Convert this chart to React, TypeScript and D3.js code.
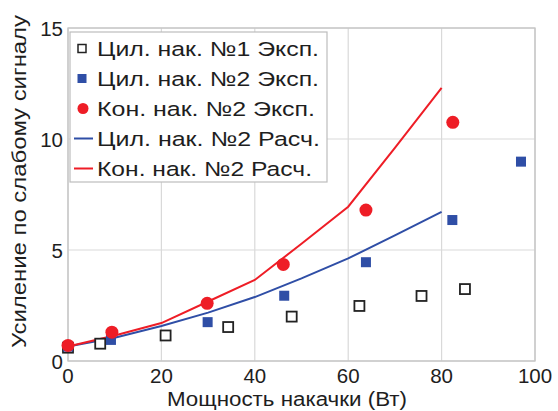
import React from "react";
import * as d3 from "d3";

const xTicks = [0, 20, 40, 60, 80, 100];
const yTicks = [0, 5, 10, 15];

// Цил. нак. №1 Эксп. (open squares)
const cyl1X = [0, 6.9, 20.9, 34.3, 47.9, 62.4, 75.7, 85];
const cyl1Y = [0.6, 0.78, 1.15, 1.53, 2.0, 2.48, 2.93, 3.24];

// Цил. нак. №2 Эксп. (filled blue squares)
const cyl2X = [0, 9.2, 29.9, 46.3, 63.8, 82.3, 97];
const cyl2Y = [0.65, 0.95, 1.75, 2.94, 4.45, 6.35, 8.98];

// Кон. нак. №2 Эксп. (red circles)
const conX = [0, 9.4, 29.8, 46.1, 63.8, 82.4];
const conY = [0.7, 1.3, 2.6, 4.35, 6.8, 10.75];

// Calculated lines
const calcX = [0, 10, 20, 30, 40, 50, 60, 70, 80];
const cylCalcY = [0.65, 1.05, 1.58, 2.18, 2.88, 3.72, 4.62, 5.66, 6.72];
const conCalcY = [0.65, 1.15, 1.71, 2.68, 3.65, 5.28, 6.95, 9.6, 12.3];

const legendLabels = [
  "Цил. нак. №1 Эксп.",
  "Цил. нак. №2 Эксп.",
  "Кон. нак. №2 Эксп.",
  "Цил. нак. №2 Расч.",
  "Кон. нак. №2 Расч.",
];
const legendWidths = [222, 222, 218, 223, 215];

const BLUE = "#2f4ea6";
const RED = "#ee1d26";
const TEXT = "#1e1e1e";
const FONT = "'Liberation Sans', Arial, sans-serif";

export default function App() {
  const W = 558, H = 411;
  const x = d3.scaleLinear().domain([0, 100]).range([68, 535]);
  const y = d3.scaleLinear().domain([0, 15]).range([361, 28]);
  const line = d3
    .line<number>()
    .x((_, i) => x(calcX[i]))
    .y((d) => y(d));

  const legX = 70, legY = 32, legW = 257, legH = 150;
  const rowY = (i: number) => 48.5 + i * 30;

  return (
    <svg
      width={W}
      height={H}
      style={{ position: "absolute", left: 0, top: 0, background: "#fff" }}
      fontFamily={FONT}
    >
      {/* grid */}
      {xTicks.map((t) => (
        <line key={"gx" + t} x1={x(t)} x2={x(t)} y1={y(15)} y2={y(0)} stroke="#d9d9d9" strokeWidth={1.2} />
      ))}
      {yTicks.map((t) => (
        <line key={"gy" + t} x1={x(0)} x2={x(100)} y1={y(t)} y2={y(t)} stroke="#d9d9d9" strokeWidth={1.2} />
      ))}
      <rect x={x(0)} y={y(15)} width={x(100) - x(0)} height={y(0) - y(15)} fill="none" stroke="#c4c4c4" strokeWidth={1.3} />

      {/* tick labels */}
      {xTicks.map((t) => (
        <text key={"tx" + t} x={x(t)} y={383} textAnchor="middle" fontSize={20.5} fill={TEXT}>
          {t}
        </text>
      ))}
      {yTicks.map((t) => (
        <text key={"ty" + t} x={63} y={y(t) + 7.5} textAnchor="end" fontSize={20.5} fill={TEXT}>
          {t}
        </text>
      ))}

      {/* axis labels */}
      <text
        x={287}
        y={406}
        textAnchor="middle"
        fontSize={20}
        fill={TEXT}
        textLength={240}
        lengthAdjust="spacingAndGlyphs"
      >
        Мощность накачки (Вт)
      </text>
      <text
        transform={`translate(26, ${181.5}) rotate(-90)`}
        textAnchor="middle"
        fontSize={21}
        fill={TEXT}
        textLength={333}
        lengthAdjust="spacingAndGlyphs"
      >
        Усиление по слабому сигналу
      </text>

      {/* calc lines */}
      <path d={line(cylCalcY) || ""} fill="none" stroke={BLUE} strokeWidth={2} />
      <path d={line(conCalcY) || ""} fill="none" stroke={RED} strokeWidth={2} />

      {/* open squares */}
      {cyl1X.map((v, i) => (
        <rect key={"c1" + i} x={x(v) - 5} y={y(cyl1Y[i]) - 5} width={10} height={10} fill="#fff" stroke="#222" strokeWidth={1.8} />
      ))}
      {/* blue squares */}
      {cyl2X.map((v, i) => (
        <rect key={"c2" + i} x={x(v) - 5} y={y(cyl2Y[i]) - 5} width={10} height={10} fill={BLUE} />
      ))}
      {/* red circles */}
      {conX.map((v, i) => (
        <circle key={"cn" + i} cx={x(v)} cy={y(conY[i])} r={6.5} fill={RED} />
      ))}

      {/* legend */}
      <rect x={legX} y={legY} width={legW} height={legH} fill="#fff" stroke="#bdbdbd" strokeWidth={1.2} />
      {legendLabels.map((lab, i) => (
        <text
          key={"lt" + i}
          x={97}
          y={rowY(i) + 7.5}
          fontSize={20.5}
          fill={TEXT}
          textLength={legendWidths[i]}
          lengthAdjust="spacingAndGlyphs"
        >
          {lab}
        </text>
      ))}
      <rect x={82 - 4} y={rowY(0) - 4} width={8} height={8} fill="#fff" stroke="#222" strokeWidth={1.5} />
      <rect x={82 - 4.5} y={rowY(1) - 4.5} width={9} height={9} fill={BLUE} />
      <circle cx={83} cy={rowY(2)} r={5.5} fill={RED} />
      <line x1={74} x2={93} y1={rowY(3)} y2={rowY(3)} stroke={BLUE} strokeWidth={2} />
      <line x1={74} x2={93} y1={rowY(4)} y2={rowY(4)} stroke={RED} strokeWidth={2} />
    </svg>
  );
}
